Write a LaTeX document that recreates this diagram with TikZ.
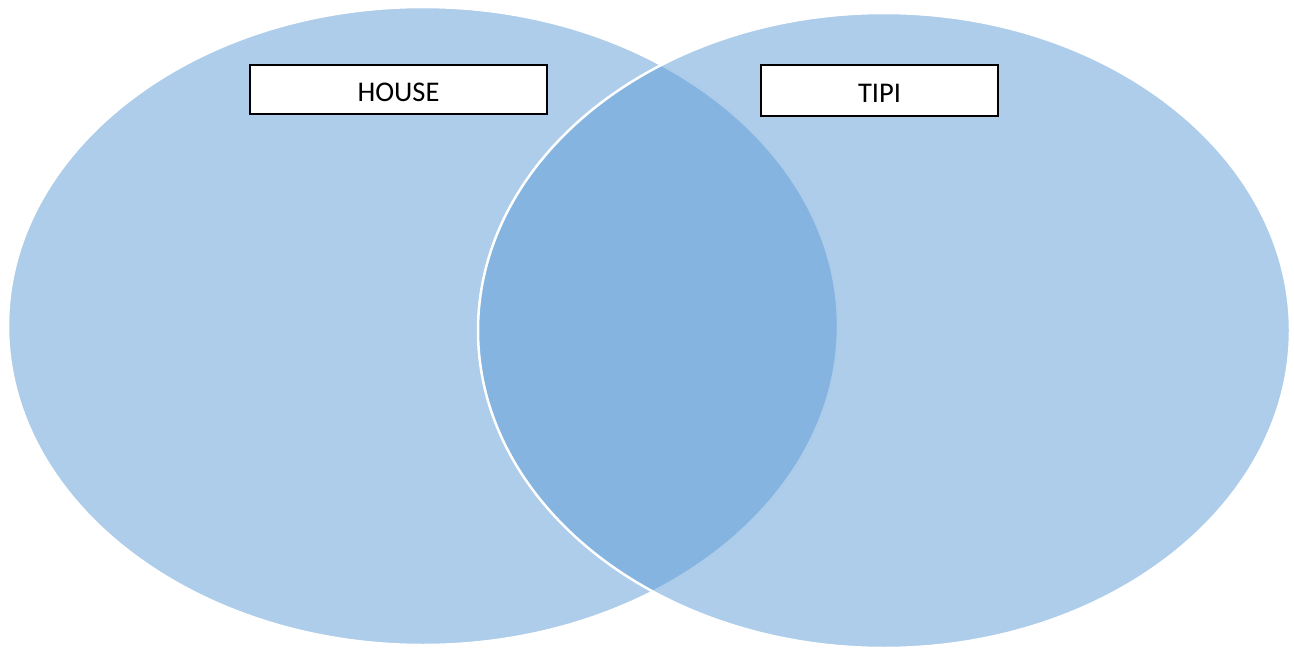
\documentclass[tikz,border=0pt]{standalone}
\usepackage{fontspec}
\setmainfont{Carlito}
\begin{document}
\begin{tikzpicture}[x=1pt,y=-1pt,
  setfill/.style={fill={rgb,255:red,91;green,155;blue,213}, fill opacity=0.5,
    draw=white, line width=2.5pt},
  labelbox/.style={draw=black, fill=white, line width=1.2pt, inner sep=0pt,
    text height=24pt, text depth=0pt,
    font=\fontsize{28.5}{32}\selectfont, text=black}]
  \useasboundingbox (0,0) rectangle (1294,648);
  % the two sets
  \path[setfill] (423,326) ellipse [x radius=415, y radius=319];
  \path[setfill] (884,330.5) ellipse [x radius=406, y radius=317.5];
  % set labels
  \node[labelbox, minimum width=297pt, minimum height=49pt] (house) at (398.5,89.5) {HOUSE};
  \node[labelbox, minimum width=237pt, minimum height=51pt] (tipi) at (879.5,90.5) {TIPI};
\end{tikzpicture}
\end{document}
